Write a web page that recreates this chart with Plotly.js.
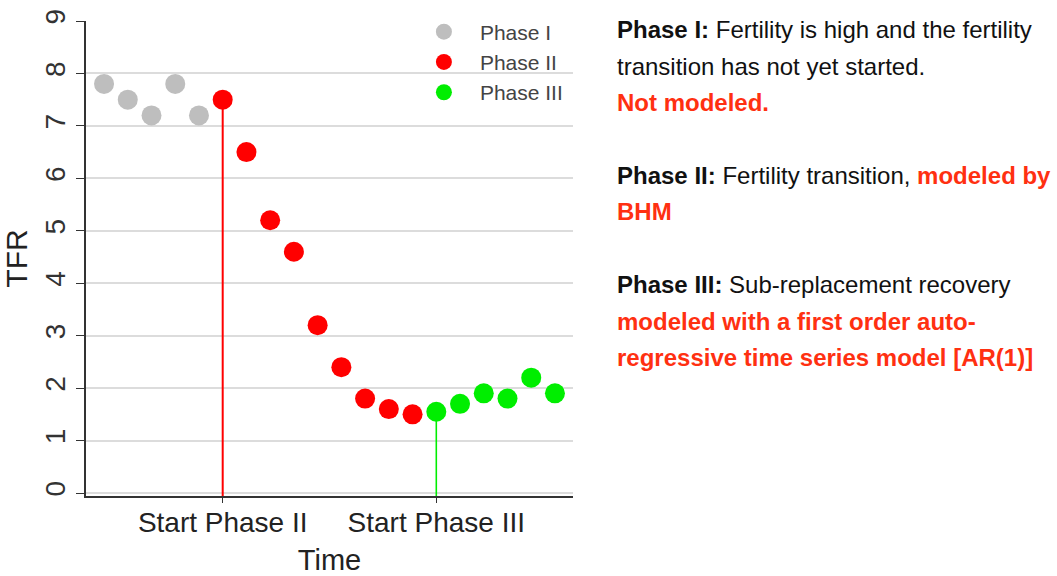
<!DOCTYPE html>
<html>
<head>
<meta charset="utf-8">
<script src="https://cdn.plot.ly/plotly-3.0.1.min.js"></script>
<style>html,body{margin:0;padding:0;background:#fff;}#chart{width:1057px;height:576px;}</style>
</head>
<body>
<div id="chart"></div>
<script>
// Data
const phase1X = [1, 2, 3, 4, 5];
const phase1Y = [7.8, 7.5, 7.2, 7.8, 7.2];
const phase2X = [6, 7, 8, 9, 10, 11, 12, 13, 14];
const phase2Y = [7.5, 6.5, 5.2, 4.6, 3.2, 2.4, 1.8, 1.6, 1.5];
const phase3X = [15, 16, 17, 18, 19, 20];
const phase3Y = [1.55, 1.7, 1.9, 1.8, 2.2, 1.9];
const seriesNames = ["Phase I", "Phase II", "Phase III"];
const tickPositions = [6, 15];
const tickLabels = ["Start Phase II", "Start Phase III"];
const yTicks = [0, 1, 2, 3, 4, 5, 6, 7, 8, 9];

const FONT = '"Liberation Sans", Arial, sans-serif';
const yMin = -0.057;

const traces = [
  // vertical marker lines at phase starts
  {x: [phase2X[0], phase2X[0]], y: [yMin, phase2Y[0]], mode: 'lines', line: {color: '#ff0000', width: 2}, showlegend: false, hoverinfo: 'skip'},
  {x: [phase3X[0], phase3X[0]], y: [yMin, phase3Y[0]], mode: 'lines', line: {color: '#00ee00', width: 1.6}, showlegend: false, hoverinfo: 'skip'},
  {x: phase1X, y: phase1Y, mode: 'markers', name: seriesNames[0], marker: {color: '#bebebe', size: 20}},
  {x: phase2X, y: phase2Y, mode: 'markers', name: seriesNames[1], marker: {color: '#ff0000', size: 20}},
  {x: phase3X, y: phase3Y, mode: 'markers', name: seriesNames[2], marker: {color: '#00ee00', size: 20}}
];

const lineH = 36.5;
const txtX = 615;
const red = '#ff3011';
const lines = [
  {y: 28, t: '<b>Phase I:</b> Fertility is high and the fertility'},
  {y: 28 + lineH, t: 'transition has not yet started.'},
  {y: 28 + 2 * lineH, t: '<b><span style="color:' + red + '">Not modeled.</span></b>'},
  {y: 174, t: '<b>Phase II:</b> Fertility transition, <b><span style="color:' + red + '">modeled by</span></b>'},
  {y: 174 + lineH, t: '<b><span style="color:' + red + '">BHM</span></b>'},
  {y: 284, t: '<b>Phase III:</b> Sub-replacement recovery'},
  {y: 284 + lineH, t: '<b><span style="color:' + red + '">modeled with a first order auto-</span></b>'},
  {y: 284 + 2 * lineH, t: '<b><span style="color:' + red + '">regressive time series model [AR(1)]</span></b>'}
];
const annotations = lines.map(l => ({
  xref: 'paper', yref: 'paper', xanchor: 'left', yanchor: 'middle',
  x: (txtX - 86) / (573 - 86), y: 1 - (l.y - 19) / (496 - 19),
  text: l.t, showarrow: false, align: 'left',
  font: {family: FONT, size: 24, color: '#111'}
}));

const layout = {
  width: 1057, height: 576,
  margin: {l: 86, r: 1057 - 573, t: 19, b: 80},
  paper_bgcolor: '#fff', plot_bgcolor: '#fff',
  showlegend: true,
  legend: {x: 0.661, y: 1.02, xanchor: 'left', yanchor: 'top', bgcolor: 'rgba(0,0,0,0)',
    font: {family: FONT, size: 21, color: '#444'}, itemwidth: 62, tracegroupgap: 0},
  xaxis: {range: [0.24, 20.76], tickmode: 'array', tickvals: tickPositions, ticktext: tickLabels,
    showgrid: false, zeroline: false, showline: true, linecolor: '#333', linewidth: 2,
    ticks: 'outside', ticklen: 5, tickcolor: '#333', tickwidth: 1, ticklabelstandoff: -5,
    tickfont: {family: FONT, size: 28, color: '#222'},
    title: {text: 'Time', font: {family: FONT, size: 29, color: '#222'}, standoff: 14}},
  yaxis: {range: [yMin, 9], tickmode: 'array', tickvals: yTicks,
    showgrid: true, gridcolor: '#dcdcdc', gridwidth: 2, zeroline: false,
    showline: true, linecolor: '#333', linewidth: 2,
    ticks: 'outside', ticklen: 8, tickcolor: '#333', tickwidth: 1, tickangle: -90,
    tickfont: {family: FONT, size: 28, color: '#333'},
    title: {text: 'TFR', font: {family: FONT, size: 30, color: '#222'}, standoff: 4}},
  annotations: annotations
};

Plotly.newPlot('chart', traces, layout, {displayModeBar: false, staticPlot: true});
</script>
</body>
</html>
